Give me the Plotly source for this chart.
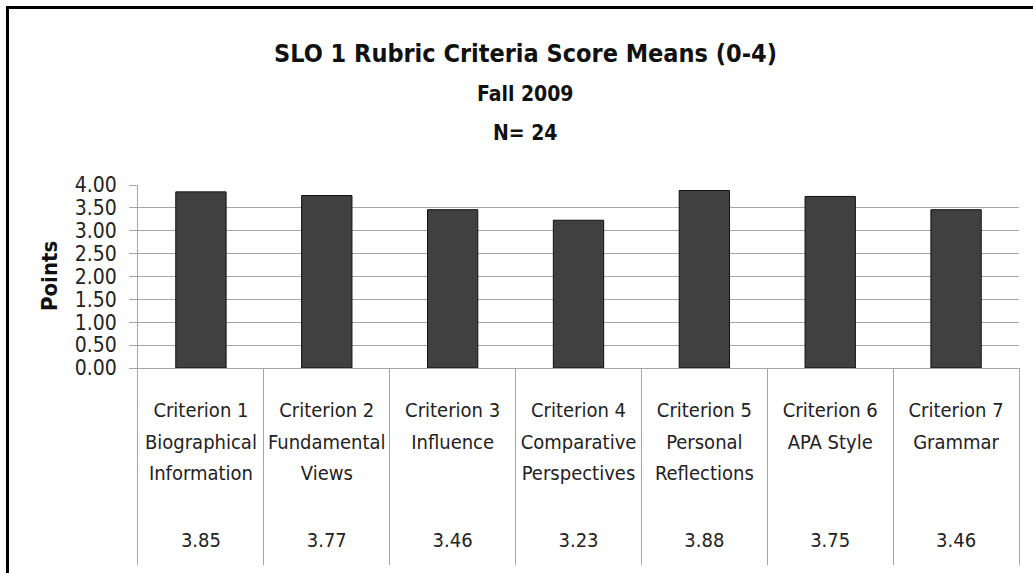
import plotly.graph_objects as go

# ---- data ----
categories = [
    "Criterion 1<br>Biographical<br>Information",
    "Criterion 2<br>Fundamental<br>Views",
    "Criterion 3<br>Influence",
    "Criterion 4<br>Comparative<br>Perspectives",
    "Criterion 5<br>Personal<br>Reflections",
    "Criterion 6<br>APA Style",
    "Criterion 7<br>Grammar",
]
means = [3.85, 3.77, 3.46, 3.23, 3.88, 3.75, 3.46]
y_ticks = [0, 0.5, 1.0, 1.5, 2.0, 2.5, 3.0, 3.5, 4.0]
title_lines = ["SLO 1 Rubric Criteria Score Means (0-4)", "Fall 2009", "N= 24"]
y_title = "Points"

# ---- styling ----
W, H = 1033, 573
FONT = "DejaVu Sans Condensed, Liberation Sans Narrow, sans-serif"
GRID = "#a6a6a6"
TXT = "#222222"

def px_x(p):
    return p / W

def px_y(p):
    return 1 - p / H

x_dom = [px_x(138), px_x(1019)]
plot_top, plot_bot, table_bot = 185, 368, 565

fig = go.Figure()

fig.add_trace(go.Bar(
    x=categories, y=means, width=0.4,
    marker=dict(color="#404040", line=dict(color="#111111", width=1)),
    xaxis="x", yaxis="y", hoverinfo="skip", showlegend=False,
))

lines = [c.split("<br>") for c in categories]
row_pix = [412, 443.5, 475]
for r, rp in enumerate(row_pix):
    xs, ts = [], []
    for c, ln in zip(categories, lines):
        if r < len(ln):
            xs.append(c)
            ts.append(ln[r])
    fig.add_trace(go.Scatter(
        x=xs, y=[(table_bot - rp) / (table_bot - plot_bot)] * len(xs),
        text=ts, mode="text", textposition="middle center",
        textfont=dict(family=FONT, size=20, color=TXT),
        xaxis="x2", yaxis="y2", hoverinfo="skip", showlegend=False,
    ))
fig.add_trace(go.Scatter(
    x=categories, y=[(table_bot - 542) / (table_bot - plot_bot)] * len(categories),
    text=[f"{v:.2f}" for v in means], mode="text", textposition="middle center",
    textfont=dict(family=FONT, size=20, color=TXT),
    xaxis="x2", yaxis="y2", hoverinfo="skip", showlegend=False,
))

fig.update_layout(
    width=W, height=H, autosize=False,
    margin=dict(l=0, r=0, t=0, b=0, pad=0),
    paper_bgcolor="white", plot_bgcolor="white",
    font=dict(family=FONT, color=TXT),
    xaxis=dict(
        domain=x_dom, anchor="y", type="category", categoryorder="array",
        categoryarray=categories, range=[-0.5, 6.5], automargin=False,
        showticklabels=False, showgrid=False, showline=True,
        linecolor=GRID, linewidth=1, ticks="", zeroline=False,
    ),
    yaxis=dict(
        domain=[px_y(plot_bot), px_y(plot_top)], anchor="x", automargin=False,
        range=[0, 4], tickvals=y_ticks, tickformat=".2f",
        showgrid=True, gridcolor=GRID, gridwidth=1,
        showline=True, linecolor=GRID, linewidth=1,
        ticks="outside", ticklen=8, tickcolor=GRID, tickwidth=1,
        ticklabelstandoff=8,
        tickfont=dict(family=FONT, size=21, color=TXT), zeroline=False,
    ),
    xaxis2=dict(
        domain=x_dom, anchor="y2", type="category", categoryorder="array",
        categoryarray=categories, range=[-0.5, 6.5], automargin=False,
        showticklabels=False, showgrid=True, gridcolor=GRID, gridwidth=1,
        tickson="boundaries", ticks="", showline=False, zeroline=False,
    ),
    yaxis2=dict(
        domain=[px_y(table_bot), px_y(plot_bot)], anchor="x2", automargin=False,
        range=[0, 1], showticklabels=False, showgrid=False, zeroline=False,
        showline=True, mirror=True, linecolor=GRID, linewidth=1, ticks="",
    ),
)

title_y = [53, 94, 133]
title_sizes = [25, 21, 21]
for t, yp, s in zip(title_lines, title_y, title_sizes):
    fig.add_annotation(
        text=f"<b>{t}</b>", x=px_x(525), y=px_y(yp), xref="paper", yref="paper",
        xanchor="center", yanchor="middle", showarrow=False,
        font=dict(family=FONT, size=s, color="#111111"),
    )

fig.add_annotation(
    text=f"<b>{y_title}</b>", x=px_x(49), y=px_y(276), xref="paper", yref="paper",
    xanchor="center", yanchor="middle", textangle=-90, showarrow=False,
    font=dict(family=FONT, size=22, color="#111111"),
)

fig.add_shape(
    type="rect", xref="paper", yref="paper",
    x0=px_x(7.5), x1=1.05, y0=-0.05, y1=px_y(7.5),
    line=dict(color="black", width=3), fillcolor="rgba(0,0,0,0)", layer="above",
)

fig.write_html(
    "out.html",
    config={"displayModeBar": False},
    post_script="document.body.style.margin='0';document.body.style.overflow='hidden';",
)
